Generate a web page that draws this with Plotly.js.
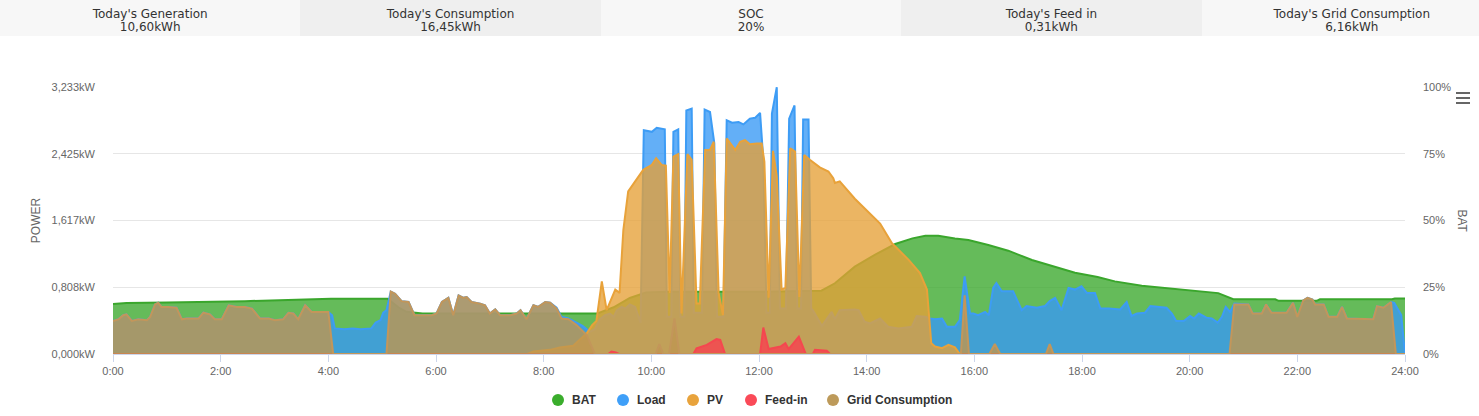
<!DOCTYPE html>
<html>
<head>
<meta charset="utf-8">
<script src="https://cdn.plot.ly/plotly-3.0.1.min.js"></script>
<style>
html,body{margin:0;padding:0;background:#fff;overflow:hidden;width:1479px;height:416px;}
#hdr{position:absolute;left:0;top:0;width:1479px;height:36px;overflow:hidden;}
.cell{position:absolute;top:0;height:36px;width:300.4px;text-align:center;font-family:"DejaVu Sans",sans-serif;font-size:12px;color:#333;line-height:13px;padding-top:8px;box-sizing:border-box;white-space:nowrap;}
#chart{position:absolute;left:0;top:36px;width:1479px;height:380px;}
#menu{position:absolute;left:1456px;top:92px;width:14px;}
#menu div{height:2px;background:#666;margin-bottom:3px;}
</style>
</head>
<body>
<div id="hdr"></div>
<div id="chart"></div>
<div id="menu"><div></div><div></div><div></div></div>
<script>
// ---- header KPIs ----
const kpiLabels = ["Today's Generation", "Today's Consumption", "SOC", "Today's Feed in", "Today's Grid Consumption"];
const kpiValues = ["10,60kWh", "16,45kWh", "20%", "0,31kWh", "6,16kWh"];

// ---- axis ticks ----
const hourTicks = [0, 2, 4, 6, 8, 10, 12, 14, 16, 18, 20, 22, 24];
const hourTickText = ["0:00", "2:00", "4:00", "6:00", "8:00", "10:00", "12:00", "14:00", "16:00", "18:00", "20:00", "22:00", "24:00"];
const powerTicks = [0, 0.808, 1.617, 2.425, 3.233];
const powerTickText = ["0,000kW", "0,808kW", "1,617kW", "2,425kW", "3,233kW"];
const socTicks = [0, 25, 50, 75, 100];
const socTickText = ["0%", "25%", "50%", "75%", "100%"];

// ---- series names ----
const seriesNames = ["BAT", "Load", "PV", "Feed-in", "Grid Consumption"];

// ---- BAT (state of charge, %) ----
const batTime = [0, 0.25, 1.0, 1.4, 1.65, 2.45, 3.25, 4.05, 5.10, 5.30,
  5.45, 5.75, 9.00, 9.30, 9.60, 9.90, 10.30, 12.00, 13.16, 13.41,
  13.78, 14.15, 14.53, 14.85, 15.09, 15.33, 15.64, 15.89, 16.26, 16.63,
  17.07, 17.50, 17.87, 18.29, 18.61, 19.11, 19.60, 20.22, 20.53, 20.81,
  21.59, 21.65, 22.36, 22.42, 23.76, 23.81, 24.0];
const batSoc = [18.7, 19.1, 19.3, 19.4, 19.5, 19.8, 20.2, 20.7, 20.7, 17.5,
  15.8, 15.2, 15.2, 17.5, 21.0, 23.0, 23.3, 23.3, 23.7, 26.5,
  32.7, 37.1, 41.2, 43.3, 44.3, 44.3, 43.3, 42.7, 40.8, 38.7,
  35.2, 32.7, 30.4, 28.8, 27.2, 25.6, 24.6, 23.2, 22.8, 20.5,
  20.5, 19.9, 19.9, 20.5, 20.5, 20.8, 20.8];

// ---- Load (kW) ----
const loadTime = [0, 0.10, 0.19, 0.25, 0.35, 0.47, 0.63, 0.69, 0.78, 0.84, 0.90, 1.03, 1.18, 1.28, 1.37, 1.59, 1.68, 1.80, 1.89, 2.02,
  2.15, 2.30, 2.45, 2.58, 2.73, 2.89, 3.01, 3.16, 3.26, 3.35, 3.44, 3.57, 3.69, 4.00,
  4.07, 4.12, 4.30, 4.45, 4.60, 4.80, 4.88, 4.97, 5.02, 5.08, 5.16, 5.24, 5.36, 5.49, 5.60, 5.92,
  6.01, 6.11, 6.23, 6.32, 6.42, 6.51, 6.57, 6.66, 6.82, 6.91, 7.00, 7.10, 7.19, 7.38, 7.50, 7.57, 7.68, 7.81, 7.90, 8.03, 8.12,
  8.24, 8.33, 8.46, 8.61, 8.72, 8.86, 8.95, 9.04, 9.14, 9.23, 9.30, 9.36, 9.45, 9.52, 9.60, 9.70, 9.80,
  9.86, 10.01, 10.10, 10.25, 10.29, 10.37, 10.41, 10.50, 10.54, 10.61,
  10.65, 10.75, 10.79, 10.94, 10.99, 11.09, 11.17, 11.22, 11.34, 11.40,
  11.50, 11.62, 11.71, 11.83, 11.93, 12.02, 12.08, 12.14, 12.20, 12.24,
  12.33, 12.39, 12.50, 12.56, 12.66, 12.71, 12.78, 12.82, 12.92, 12.97,
  13.00, 13.17, 13.35, 13.41, 13.50, 13.78, 13.85, 13.96, 14.06, 14.25,
  14.40, 14.59, 14.84, 14.93, 15.09, 15.18, 15.27, 15.40, 15.49, 15.64,
  15.73, 15.82, 15.92, 15.98, 16.07, 16.20, 16.27, 16.35, 16.41, 16.51,
  16.72, 16.88, 16.97, 17.16, 17.31, 17.40, 17.50, 17.62, 17.75, 17.87,
  17.99, 18.09, 18.24, 18.34, 18.50, 18.71, 18.83, 18.92, 19.02, 19.17,
  19.27, 19.40, 19.57, 19.67, 19.75, 19.89, 20.01, 20.08, 20.17, 20.31,
  20.41, 20.52, 20.60, 20.67, 20.75, 20.83,
  21.09, 21.17, 21.34, 21.42, 21.52, 21.80, 21.92, 22.00, 22.11, 22.19,
  22.28, 22.33, 22.49, 22.58, 22.74, 22.83, 22.92, 23.32, 23.41, 23.48,
  23.60, 23.74, 23.80, 23.93, 24.0];
const loadKw = [0.40, 0.42, 0.47, 0.48, 0.40, 0.42, 0.41, 0.45, 0.60, 0.62, 0.57, 0.57, 0.56, 0.42, 0.43, 0.43, 0.50, 0.48, 0.42, 0.42,
  0.59, 0.57, 0.57, 0.55, 0.43, 0.43, 0.41, 0.42, 0.50, 0.49, 0.42, 0.59, 0.51, 0.51,
  0.47, 0.31, 0.30, 0.31, 0.30, 0.31, 0.38, 0.41, 0.50, 0.53, 0.755, 0.73, 0.64, 0.63, 0.47, 0.47,
  0.49, 0.63, 0.68, 0.47, 0.71, 0.68, 0.69, 0.63, 0.61, 0.59, 0.49, 0.54, 0.47, 0.47, 0.49, 0.53, 0.42, 0.59, 0.57, 0.63, 0.62,
  0.56, 0.45, 0.43, 0.38, 0.34, 0.27, 0.30, 0.42, 0.47, 0.49, 0.45, 0.53, 0.57, 0.55, 0.60, 0.57, 0.38,
  2.71, 2.69, 2.74, 2.72, 0.45, 0.45, 2.69, 2.72, 0.45, 0.45,
  2.95, 2.97, 0.50, 0.50, 2.96, 2.93, 2.55, 0.45, 0.45, 2.83,
  2.80, 2.81, 2.78, 2.85, 2.86, 2.92, 2.35, 0.50, 0.50, 2.91,
  3.23, 0.55, 0.55, 2.85, 3.01, 0.55, 0.55, 2.84, 2.84, 0.55,
  0.53, 0.34, 0.51, 0.42, 0.53, 0.54, 0.53, 0.39, 0.37, 0.43,
  0.33, 0.31, 0.33, 0.46, 0.45, 0.43, 0.42, 0.43, 0.33, 0.33,
  0.41, 0.94, 0.49, 0.49, 0.47, 0.51, 0.47, 0.80, 0.86, 0.76,
  0.76, 0.53, 0.58, 0.56, 0.58, 0.64, 0.68, 0.53, 0.80, 0.78,
  0.82, 0.74, 0.74, 0.55, 0.55, 0.54, 0.63, 0.46, 0.49, 0.50,
  0.58, 0.57, 0.56, 0.49, 0.40, 0.40, 0.46, 0.43, 0.49, 0.44,
  0.43, 0.38, 0.45, 0.57, 0.51, 0.61,
  0.60, 0.49, 0.49, 0.60, 0.50, 0.50, 0.62, 0.45, 0.65, 0.68,
  0.66, 0.60, 0.60, 0.45, 0.45, 0.57, 0.43, 0.42, 0.42, 0.58,
  0.56, 0.63, 0.62, 0.47, 0];

// ---- PV (kW) ----
const pvTime = [0, 7.70, 7.81, 8.12, 8.30, 8.55, 8.68, 8.80, 8.90, 8.98,
  9.08, 9.17, 9.33, 9.41, 9.48, 9.57, 9.70, 9.85, 10.01, 10.09,
  10.19, 10.27, 10.34, 10.41, 10.50, 10.56, 10.67, 10.75, 10.84, 10.90,
  11.00, 11.09, 11.16, 11.25, 11.33, 11.40, 11.56, 11.65, 11.74, 11.83,
  11.96, 12.05, 12.10, 12.18, 12.26, 12.33, 12.42, 12.49, 12.58, 12.67,
  12.75, 12.84, 12.95, 13.13, 13.29, 13.38, 13.41, 13.50, 13.78, 14.03,
  14.25, 14.47, 14.78, 14.99, 15.12, 15.20, 15.27, 15.40, 15.52, 15.64,
  15.73, 24];
const pvKw = [0, 0, 0.03, 0.05, 0.08, 0.10, 0.18, 0.25, 0.35, 0.40,
  0.88, 0.53, 0.78, 0.74, 1.50, 1.97, 2.09, 2.23, 2.29, 2.37,
  2.29, 2.28, 0.74, 2.39, 2.42, 0.49, 2.42, 2.35, 0.61, 0.61,
  2.47, 2.47, 2.57, 0.74, 0.47, 2.61, 2.47, 2.57, 2.59, 2.54,
  2.55, 2.55, 2.33, 0.68, 2.46, 2.15, 0.78, 0.80, 2.49, 2.45,
  0.69, 2.41, 2.35, 2.26, 2.21, 2.13, 2.07, 2.09, 1.88, 1.72,
  1.58, 1.34, 1.14, 0.98, 0.78, 0.13, 0.09, 0.07, 0.11, 0.08,
  0, 0];

// ---- Feed-in (kW) ----
const feedTime = [0, 9.20, 9.26, 9.34, 9.40, 10.78, 10.84, 11.03, 11.21, 11.28, 11.37, 12.02, 12.08, 12.18, 12.40, 12.49, 12.55, 12.74, 12.87, 13.00, 13.04, 13.26, 13.32, 24];
const feedKw = [0, 0, 0.03, 0.02, 0, 0, 0.07, 0.11, 0.18, 0.17, 0, 0, 0.32, 0.06, 0.09, 0.13, 0.06, 0.21, 0, 0, 0.05, 0.04, 0, 0];

// ---- Grid Consumption (kW) ----
const gridTime = [0, 0.10, 0.19, 0.25, 0.35, 0.47, 0.63, 0.69, 0.78, 0.84, 0.90, 1.03, 1.18, 1.28, 1.37, 1.59, 1.68, 1.80, 1.89, 2.02,
  2.15, 2.30, 2.45, 2.58, 2.73, 2.89, 3.01, 3.16, 3.26, 3.35, 3.44, 3.57, 3.69, 4.00, 4.09,
  5.08, 5.16, 5.24, 5.36, 5.49, 5.60, 5.92,
  6.01, 6.11, 6.23, 6.32, 6.42, 6.51, 6.57, 6.66, 6.82, 6.91, 7.00, 7.10, 7.19, 7.38, 7.50, 7.57, 7.68, 7.81, 7.90, 8.03,
  8.12, 8.24, 8.33, 8.46, 8.61, 8.80, 8.95,
  10.08, 10.15, 10.22, 10.33, 10.43, 10.52, 15.75, 15.82, 15.90, 16.28, 16.38, 16.48, 17.33, 17.40, 17.47,
  20.74, 20.83, 21.09, 21.17, 21.34, 21.42, 21.52, 21.80, 21.92, 22.00, 22.11, 22.19, 22.28, 22.33, 22.49, 22.58, 22.74, 22.83, 22.92, 23.32,
  23.41, 23.48, 23.60, 23.74, 23.83, 24.0];
const gridKw = [0.40, 0.42, 0.47, 0.48, 0.40, 0.42, 0.41, 0.45, 0.60, 0.62, 0.57, 0.57, 0.56, 0.42, 0.43, 0.43, 0.50, 0.48, 0.42, 0.42,
  0.59, 0.57, 0.57, 0.55, 0.43, 0.43, 0.41, 0.42, 0.50, 0.49, 0.42, 0.59, 0.51, 0.51, 0,
  0, 0.755, 0.73, 0.64, 0.63, 0.47, 0.47,
  0.49, 0.63, 0.68, 0.47, 0.71, 0.68, 0.69, 0.63, 0.61, 0.59, 0.49, 0.54, 0.47, 0.47, 0.49, 0.53, 0.42, 0.59, 0.57, 0.63,
  0.62, 0.55, 0.43, 0.42, 0.35, 0.23, 0,
  0, 0.12, 0, 0, 0.43, 0, 0, 0.71, 0, 0, 0.12, 0, 0, 0.12, 0,
  0, 0.60, 0.60, 0.49, 0.49, 0.60, 0.50, 0.50, 0.62, 0.45, 0.65, 0.68, 0.66, 0.60, 0.60, 0.45, 0.45, 0.57, 0.43, 0.42,
  0.42, 0.58, 0.56, 0.63, 0, 0];

// ---- header ----
const hdr = document.getElementById('hdr');
const cellBg = ['#f7f7f7', '#efefef'];
kpiLabels.forEach((lab, i) => {
  const d = document.createElement('div');
  d.className = 'cell';
  d.style.left = (i * 300.4) + 'px';
  d.style.background = cellBg[i % 2];
  d.innerHTML = '<div>' + lab + '</div><div>' + kpiValues[i] + '</div>';
  hdr.appendChild(d);
});

// ---- styles ----
const lineCol = ['#3aa62c', '#3d9cf5', '#e8a23a', '#f5474f', '#c3965a'];
const fillCol = ['rgba(58,168,44,0.78)', 'rgba(55,152,245,0.78)', 'rgba(230,160,55,0.78)', 'rgba(245,70,80,0.85)', 'rgba(190,150,80,0.80)'];
const dotCol = ['#3aad2c', '#3f9ff8', '#e8a33c', '#fa4a58', '#bd9a5a'];

function area(x, y, i, axis) {
  return {
    type: 'scatter', mode: 'lines', x: x, y: y, yaxis: axis,
    name: seriesNames[i], fill: 'tozeroy', fillcolor: fillCol[i],
    line: {color: lineCol[i], width: 2}, showlegend: false, hoverinfo: 'skip'
  };
}
const traces = [
  area(batTime, batSoc, 0, 'y'),
  area(loadTime, loadKw, 1, 'y2'),
  area(pvTime, pvKw, 2, 'y2'),
  area(feedTime, feedKw, 3, 'y2'),
  area(gridTime, gridKw, 4, 'y2')
];

// ---- legend (drawn as circle shapes + text, Highcharts-style) ----
const plotL = 113, plotW = 1292, plotB = 318, plotH = 267; // px inside chart div
const legendDotPx = [558, 623, 693, 751, 833];
const legendYpx = 364;
const toPx = px => (px - plotL) / plotW;
const toPy = py => (plotB - py) / plotH;
const shapes = [];
const annotations = [];
seriesNames.forEach((n, i) => {
  shapes.push({type: 'circle', xref: 'paper', yref: 'paper', xsizemode: 'pixel', ysizemode: 'pixel',
    xanchor: toPx(legendDotPx[i]), yanchor: toPy(legendYpx), x0: -6, x1: 6, y0: -6, y1: 6,
    fillcolor: dotCol[i], line: {width: 0}});
  annotations.push({text: n, xref: 'paper', yref: 'paper', x: toPx(legendDotPx[i] + 12), y: toPy(legendYpx),
    xanchor: 'left', yanchor: 'middle', showarrow: false,
    font: {family: '"Liberation Sans", Arial, sans-serif', size: 12, color: '#333333', weight: 'bold'}});
});
annotations.push({text: 'BAT', textangle: 90, xref: 'paper', yref: 'paper', x: toPx(1462), y: 0.5,
  xanchor: 'center', yanchor: 'middle', showarrow: false, font: {size: 12, color: '#666666'}});

const layout = {
  width: 1479, height: 380,
  margin: {l: 113, r: 74, t: 51, b: 62},
  paper_bgcolor: '#ffffff', plot_bgcolor: '#ffffff',
  font: {family: '"Liberation Sans", Arial, sans-serif', size: 11, color: '#666666'},
  showlegend: false,
  xaxis: {range: [0, 24], tickmode: 'array', tickvals: hourTicks, ticktext: hourTickText, showgrid: false, zeroline: false,
    color: '#666666', showline: true, linecolor: '#ccd6eb', linewidth: 1, ticks: 'outside', ticklen: 7, tickcolor: '#ccd6eb',
    tickfont: {size: 11, color: '#666666'}},
  yaxis: {range: [0, 100], side: 'right', tickmode: 'array', tickvals: socTicks, ticktext: socTickText, color: '#666666',
    showgrid: true, gridcolor: '#e6e6e6', zeroline: false, showline: false, ticks: '', ticklabelstandoff: 17,
    tickfont: {size: 11, color: '#666666'}},
  yaxis2: {range: [0, 3.233], overlaying: 'y', side: 'left', tickmode: 'array', tickvals: powerTicks, ticktext: powerTickText,
    color: '#666666', showgrid: false, zeroline: false, showline: false, ticks: '', ticklabelstandoff: 17,
    tickfont: {size: 11, color: '#666666'},
    title: {text: 'POWER', font: {size: 12, color: '#666666'}, standoff: 8}},
  shapes: shapes,
  annotations: annotations
};

Plotly.newPlot('chart', traces, layout, {displayModeBar: false, staticPlot: true});
</script>
</body>
</html>
